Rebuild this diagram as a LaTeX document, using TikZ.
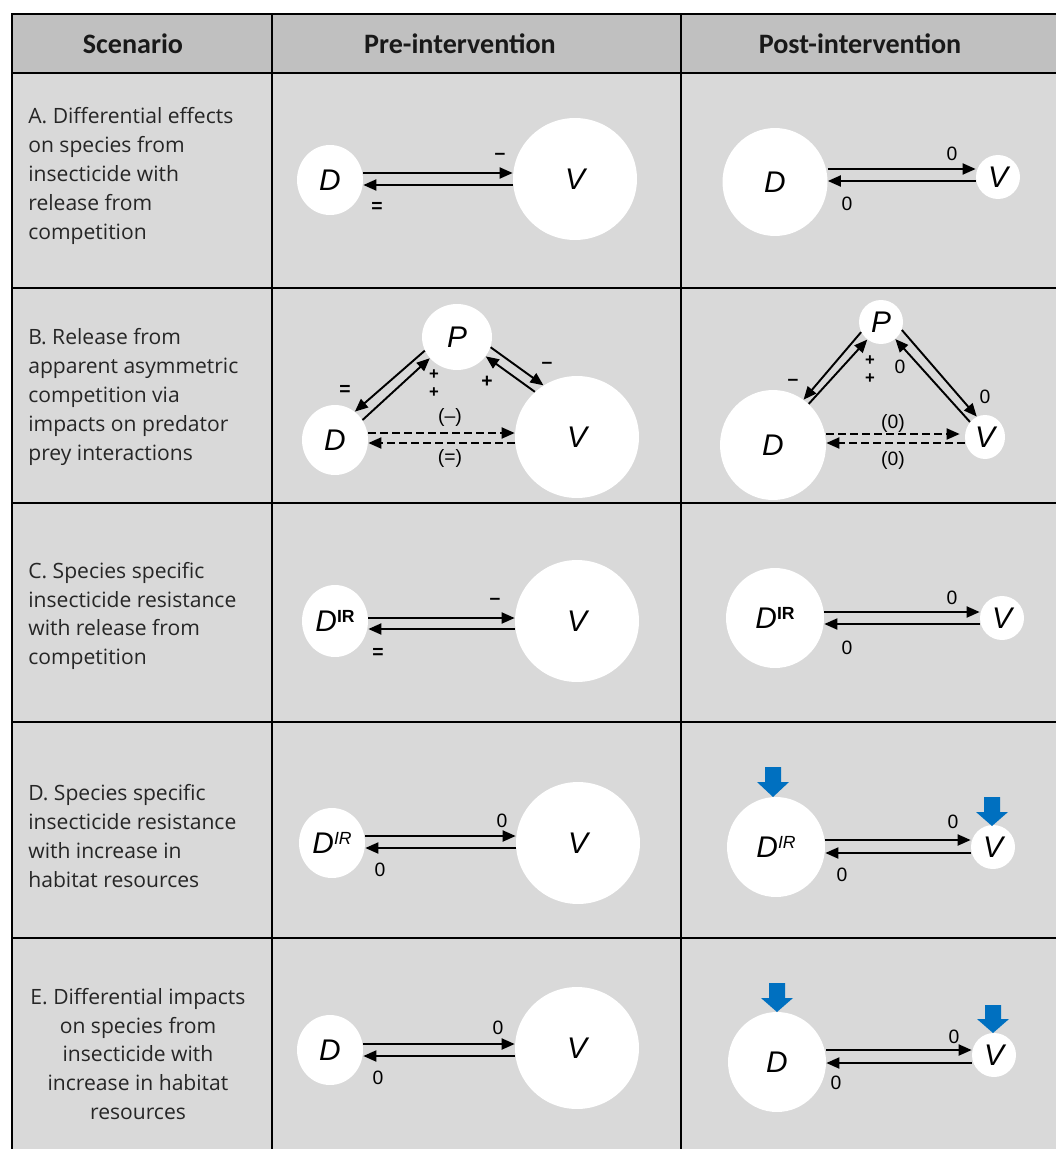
\documentclass[tikz,border=0pt]{standalone}
\usepackage{fontspec}
\usepackage{tikz}
\usepackage{xcolor}
\setmainfont{Open Sans}
\newfontfamily\headfont{Carlito}
\newfontfamily\symfont{Liberation Sans}
\usetikzlibrary{shapes.geometric}
\usetikzlibrary{arrows.meta}
\definecolor{headgray}{RGB}{192,192,192}
\definecolor{cellgray}{RGB}{217,217,217}
\definecolor{cueblue}{RGB}{0,112,192}

\begin{document}
\begin{tikzpicture}[x=0.02cm, y=-0.02cm,
        pop/.style = {ellipse, fill=white, inner sep=0pt, font=\symfont\fontsize{17}{17}\selectfont\itshape},
        sm/.style = {pop, minimum width=1.32cm, minimum height=1.40cm},
        lg/.style = {pop, minimum width=2.48cm, minimum height=2.44cm},
        md/.style = {pop, minimum width=1.96cm, minimum height=2.0cm},
        xs/.style = {pop, minimum width=0.88cm, minimum height=0.88cm},
        link/.style = {-{Triangle[length=0.26cm,width=0.22cm]}, line width=1.1pt},
        dlink/.style = {link, dash pattern=on 0.16cm off 0.08cm},
        sgn/.style = {font=\symfont\fontsize{11}{11}\selectfont, inner sep=0pt},
        pair/.style = {sgn, align=center, font=\symfont\bfseries\fontsize{9.5}{10.2}\selectfont},
        note/.style = {font=\fontsize{12}{16.4}\selectfont, text=black!85, inner sep=0pt, align=left, anchor=west},
        head/.style = {font=\headfont\bfseries\fontsize{16}{16}\selectfont, text=black!90, inner sep=0pt},
        rule/.style = {line width=0.05cm},
        cue/.style = {fill=cueblue}]
        \useasboundingbox (0,0) rectangle (1056,1149);
        % table
        \fill[headgray] (12,14) rectangle (1056,73);
        \fill[cellgray] (12,73) rectangle (1056,1149);
        \draw[rule] (1056,14) -- (12,14) -- (12,1149);
        \draw[rule] (272,14) -- (272,1149);
        \draw[rule] (681,14) -- (681,1149);
        \draw[rule] (12,73) -- (1056,73);
        \draw[rule] (12,288) -- (1056,288);
        \draw[rule] (12,503) -- (1056,503);
        \draw[rule] (12,722) -- (1056,722);
        \draw[rule] (12,938) -- (1056,938);
        \node[head] (h1) at (133,44) {Scenario};
        \node[head] (h2) at (460,44) {Pre-intervention};
        \node[head] (h3) at (860,44) {Post-intervention};
        \node[note] (tA) at (28,176) {A. Differential effects\\on species from\\insecticide with\\release from\\competition};
        \node[note] (tB) at (28,397) {B. Release from\\apparent asymmetric\\competition via\\impacts on predator\\prey interactions};
        \node[note] (tC) at (28,616) {C. Species specific\\insecticide resistance\\with release from\\competition};
        \node[note] (tD) at (28,836) {D. Species specific\\insecticide resistance\\with increase in\\habitat resources};
        \node[note, anchor=center, align=center] (tE) at (138,1054) {E. Differential impacts\\on species from\\insecticide with\\increase in habitat\\resources};

        % A
        \node[sm] (aD) at (330,180) {D};
        \node[lg] (aV) at (575,179) {V};
        \draw[link] (aD.east |- 0,173) -- (aV.west |- 0,173);
        \draw[link] (aV.west |- 0,185) -- (aD.east |- 0,185);
        \node[sgn] (aS1) at (500,156) {\bfseries –};
        \node[sgn] (aS2) at (377,207) {\bfseries =};
        \node[md, minimum width=2.1cm, minimum height=2.16cm] (aD2) at (775,182) {D};
        \node[xs] (aV2) at (998,177) {V};
        \draw[link] (aD2.east |- 0,169) -- (aV2.west |- 0,169);
        \draw[link] (aV2.west |- 0,181) -- (aD2.east |- 0,181);
        \node[sgn] (aS3) at (952,154) {0};
        \node[sgn] (aS4) at (847,204) {0};

        % B
        \node[sm, minimum width=1.40cm, minimum height=1.32cm] (bP) at (457,337) {P};
        \node[sm] (bD) at (335,440) {D};
        \node[lg] (bV) at (577,437) {V};
        \draw[link] (bP.203) -- (bD.55);
        \draw[link] (bD.36) -- (bP.218);
        \draw[link] (bP.343) -- (bV.123);
        \draw[link] (bV.133) -- (bP.326);
        \draw[dlink] (bD.east |- 0,433) -- (bV.west |- 0,433);
        \draw[dlink] (bV.west |- 0,443) -- (bD.east |- 0,443);
        \node[sgn] (bS1) at (345,390) {\bfseries =};
        \node[pair] (bS2) at (434,384) {+\\+};
        \node[sgn] (bS4) at (487,382) {\bfseries +};
        \node[sgn] (bS5) at (547,365) {\bfseries –};
        \node[sgn] (bS6) at (450,417) {(–)};
        \node[sgn] (bS7) at (450,458) {(=)};
        \node[xs] (bP2) at (881,322) {P};
        \node[md, minimum width=2.12cm, minimum height=2.2cm] (bD2) at (773,445) {D};
        \node[xs, minimum width=0.8cm] (bV2) at (985,437) {V};
        \draw[link] (bP2.207) -- (bD2.56);
        \draw[link] (bD2.49) -- (bP2.232);
        \draw[link] (bP2.339) -- (bV2.112);
        \draw[link] (bV2.135) -- (bP2.310);
        \draw[dlink, shorten >=0.1cm] (bD2.east |- 0,434) -- (bV2.west |- 0,434);
        \draw[dlink] (bV2.west |- 0,443) -- (bD2.east |- 0,443);
        \node[sgn] (bS8) at (793,382) {\bfseries –};
        \node[pair] (bS9) at (870,370) {+\\+};
        \node[sgn] (bS11) at (900,367) {0};
        \node[sgn] (bS12) at (985,397) {0};
        \node[sgn] (bS13) at (893,423) {(0)};
        \node[sgn] (bS14) at (893,460) {(0)};

        % C
        \node[sm, minimum height=1.44cm] (cD) at (335,621) {D\raisebox{5.5pt}{\fontsize{10}{10}\selectfont\upshape\bfseries IR}};
        \node[lg] (cV) at (577,621) {V};
        \draw[link] (cD.east |- 0,618) -- (cV.west |- 0,618);
        \draw[link] (cV.west |- 0,629) -- (cD.east |- 0,629);
        \node[sgn] (cS1) at (495,601) {\bfseries –};
        \node[sgn] (cS2) at (378,653) {\bfseries =};
        \node[md] (cD2) at (775,618) {D\raisebox{5.5pt}{\fontsize{10}{10}\selectfont\upshape\bfseries IR}};
        \node[xs] (cV2) at (1002,618) {V};
        \draw[link] (cD2.east |- 0,612) -- (cV2.west |- 0,612);
        \draw[link] (cV2.west |- 0,624) -- (cD2.east |- 0,624);
        \node[sgn] (cS3) at (952,598) {0};
        \node[sgn] (cS4) at (847,648) {0};

        % D
        \node[sm] (dD) at (332,843) {D\raisebox{5.5pt}{\fontsize{10}{10}\selectfont IR}};
        \node[lg] (dV) at (578,843) {V};
        \draw[link] (dD.east |- 0,836) -- (dV.west |- 0,836);
        \draw[link] (dV.west |- 0,848) -- (dD.east |- 0,848);
        \node[sgn] (dS1) at (502,821) {0};
        \node[sgn] (dS2) at (380,870) {0};
        \node[md] (dD2) at (776,847) {D\raisebox{5.5pt}{\fontsize{10}{10}\selectfont IR}};
        \node[xs] (dV2) at (993,847) {V};
        \draw[link] (dD2.east |- 0,840) -- (dV2.west |- 0,840);
        \draw[link] (dV2.west |- 0,853) -- (dD2.east |- 0,853);
        \node[sgn] (dS3) at (953,822) {0};
        \node[sgn] (dS4) at (842,875) {0};
        \fill[cue] (765,767) -- ++(16,0) -- ++(0,15) -- ++(8,0) -- ++(-16,15) -- ++(-16,-15) -- ++(8,0) -- cycle;
        \fill[cue] (984,797) -- ++(16,0) -- ++(0,15) -- ++(8,0) -- ++(-16,14) -- ++(-16,-14) -- ++(8,0) -- cycle;

        % E
        \node[sm] (eD) at (330,1050) {D};
        \node[lg] (eV) at (577,1048) {V};
        \draw[link] (eD.east |- 0,1044) -- (eV.west |- 0,1044);
        \draw[link] (eV.west |- 0,1056) -- (eD.east |- 0,1056);
        \node[sgn] (eS1) at (498,1028) {0};
        \node[sgn] (eS2) at (378,1078) {0};
        \node[md] (eD2) at (777,1062) {D};
        \node[xs] (eV2) at (994,1055) {V};
        \draw[link] (eD2.east |- 0,1050) -- (eV2.west |- 0,1050);
        \draw[link] (eV2.west |- 0,1063) -- (eD2.east |- 0,1063);
        \node[sgn] (eS3) at (954,1037) {0};
        \node[sgn] (eS4) at (836,1083) {0};
        \fill[cue] (769,983) -- ++(16,0) -- ++(0,15) -- ++(8,0) -- ++(-16,14) -- ++(-16,-14) -- ++(8,0) -- cycle;
        \fill[cue] (985,1005) -- ++(16,0) -- ++(0,14) -- ++(8,0) -- ++(-16,14) -- ++(-16,-14) -- ++(8,0) -- cycle;
\end{tikzpicture}
\end{document}
